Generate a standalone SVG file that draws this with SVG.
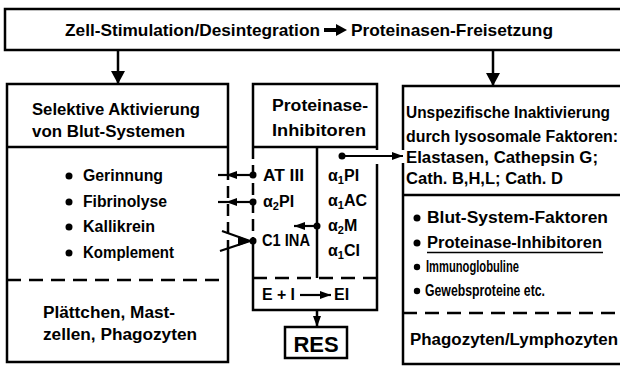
<svg xmlns="http://www.w3.org/2000/svg" width="620" height="369" viewBox="0 0 620 369">
<defs>
<style>
text{font-family:"Liberation Sans",Arial,sans-serif;font-weight:bold;font-size:16px;fill:#000}
.t17{font-size:17px}
.sub{font-size:11px}
.ln{stroke:#000;stroke-width:2.5;fill:none}
.dash{stroke:#000;stroke-width:2.5;fill:none;stroke-dasharray:14 8}
.vdash{stroke:#000;stroke-width:2.5;fill:none;stroke-dasharray:12 6}
.dot{fill:#000}
.con{stroke:#000;stroke-width:2.2;fill:none}
</style>
<marker id="ah" markerUnits="userSpaceOnUse" markerWidth="11" markerHeight="8" refX="11" refY="4" orient="auto">
<path d="M0,0 L11,4 L0,8 z" fill="#000"/>
</marker>
<marker id="ahBig" markerUnits="userSpaceOnUse" markerWidth="14" markerHeight="14" refX="13" refY="7" orient="auto">
<path d="M0,0 L13,7 L0,14 z" fill="#000"/>
</marker>
</defs>
<rect width="620" height="369" fill="#fff"/>

<g id="top">
<rect class="ln" x="5" y="9" width="620" height="41"/>
<text class="t17" x="65" y="36" textLength="255" lengthAdjust="spacingAndGlyphs">Zell-Stimulation/Desintegration</text>
<path d="M324,30 H337" stroke="#000" stroke-width="4"/>
<path d="M336,24 L347,30 L336,36 z" fill="#000"/>
<text class="t17" x="351" y="36" textLength="202" lengthAdjust="spacingAndGlyphs">Proteinasen-Freisetzung</text>
</g>

<g id="left-box">
<path class="ln" d="M228,168 V84 H7 V362 H228 V250"/>
<path class="vdash" d="M228,168 V250"/>
<path class="ln" d="M7,147 H228"/>
<path class="dash" d="M7,280 H228"/>
<text x="32" y="115" textLength="168" lengthAdjust="spacingAndGlyphs">Selektive Aktivierung</text>
<text x="32" y="137" textLength="153" lengthAdjust="spacingAndGlyphs">von Blut-Systemen</text>
<circle class="dot" cx="69" cy="176" r="3.5"/>
<circle class="dot" cx="69" cy="202" r="3.5"/>
<circle class="dot" cx="69" cy="227" r="3.5"/>
<circle class="dot" cx="69" cy="253" r="3.5"/>
<text x="83" y="181" textLength="80" lengthAdjust="spacingAndGlyphs">Gerinnung</text>
<text x="83" y="207" textLength="84" lengthAdjust="spacingAndGlyphs">Fibrinolyse</text>
<text x="83" y="232" textLength="72" lengthAdjust="spacingAndGlyphs">Kallikrein</text>
<text x="83" y="258" textLength="91" lengthAdjust="spacingAndGlyphs">Komplement</text>
<text x="43" y="318" textLength="132" lengthAdjust="spacingAndGlyphs">Plättchen, Mast-</text>
<text x="43" y="340" textLength="154" lengthAdjust="spacingAndGlyphs">zellen, Phagozyten</text>
</g>

<g id="mid-box">
<path class="ln" d="M253,147 V84 H377 V150"/>
<path class="ln" d="M377,164 V310 H253 V238"/>
<path class="vdash" d="M253,147 V238"/>
<path class="ln" d="M253,147 H377"/>
<path class="ln" d="M317,147 V278"/>
<path class="dash" d="M253,278 H377"/>
<text x="272" y="111" textLength="96" lengthAdjust="spacingAndGlyphs">Proteinase-</text>
<text x="272" y="136" textLength="94" lengthAdjust="spacingAndGlyphs">Inhibitoren</text>
<text x="263" y="181" textLength="41" lengthAdjust="spacingAndGlyphs">AT III</text>
<text x="263" y="207">α<tspan class="sub" dy="3">2</tspan><tspan dy="-3">PI</tspan></text>
<text x="262" y="246" textLength="48" lengthAdjust="spacingAndGlyphs">C1 INA</text>
<text x="328" y="181">α<tspan class="sub" dy="3">1</tspan><tspan dy="-3">PI</tspan></text>
<text x="328" y="206">α<tspan class="sub" dy="3">1</tspan><tspan dy="-3">AC</tspan></text>
<text x="328" y="231">α<tspan class="sub" dy="3">2</tspan><tspan dy="-3">M</tspan></text>
<text x="328" y="256">α<tspan class="sub" dy="3">1</tspan><tspan dy="-3">CI</tspan></text>
<text x="262" y="300" textLength="33" lengthAdjust="spacingAndGlyphs">E + I</text>
<path class="con" d="M300,295 H331" marker-end="url(#ah)"/>
<text x="334" y="300">EI</text>
</g>

<g id="res">
<rect class="ln" x="285" y="327" width="62" height="31"/>
<text x="316" y="352" text-anchor="middle" style="font-size:22px">RES</text>
</g>

<g id="right-box">
<path class="ln" d="M403,150 V86 H625"/>
<path class="ln" d="M403,163 V364 H625"/>
<path class="ln" d="M403,195 H625"/>
<path class="dash" d="M403,313 H625"/>
<text x="406" y="118" textLength="204" lengthAdjust="spacingAndGlyphs">Unspezifische Inaktivierung</text>
<text x="406" y="142" textLength="212" lengthAdjust="spacingAndGlyphs">durch lysosomale Faktoren:</text>
<text x="406" y="163" textLength="192" lengthAdjust="spacingAndGlyphs">Elastasen, Cathepsin G;</text>
<text x="406" y="184" textLength="157" lengthAdjust="spacingAndGlyphs">Cath. B,H,L; Cath. D</text>
<circle class="dot" cx="417" cy="218" r="3.5"/>
<circle class="dot" cx="417" cy="243" r="3.5"/>
<circle class="dot" cx="417" cy="267" r="3.2"/>
<circle class="dot" cx="417" cy="291" r="3.2"/>
<text x="427" y="223" textLength="181" lengthAdjust="spacingAndGlyphs">Blut-System-Faktoren</text>
<text x="427" y="248" textLength="175" lengthAdjust="spacingAndGlyphs">Proteinase-Inhibitoren</text>
<path d="M427,252.5 H603" stroke="#000" stroke-width="1.6"/>
<text x="426" y="272" textLength="93" lengthAdjust="spacingAndGlyphs">Immunoglobuline</text>
<text x="425" y="296" textLength="120" lengthAdjust="spacingAndGlyphs">Gewebsproteine etc.</text>
<text x="410" y="345" textLength="208" lengthAdjust="spacingAndGlyphs">Phagozyten/Lymphozyten</text>
</g>

<g id="connectors">
<path class="ln" d="M118,50 V84" marker-end="url(#ahBig)"/>
<path class="ln" d="M493,50 V86" marker-end="url(#ahBig)"/>
<circle class="dot" cx="253" cy="175" r="3.5"/>
<path class="con" d="M253,175 H226" marker-end="url(#ah)"/>
<path class="con" d="M226,175 H218"/>
<circle class="dot" cx="253" cy="202" r="3.5"/>
<path class="con" d="M253,202 H226" marker-end="url(#ah)"/>
<path class="con" d="M226,202 H218"/>
<circle class="dot" cx="317" cy="226" r="3.5"/>
<path class="con" d="M317,226 H294" marker-end="url(#ah)"/>
<circle class="dot" cx="253" cy="241" r="3.5"/>
<path class="con" d="M222,231 L250,241"/>
<path class="con" d="M220,251 L250,241"/>
<path d="M238,236 L251,241 L238,246 z" fill="#000"/>
<circle class="dot" cx="342" cy="156" r="3.5"/>
<path class="con" d="M342,156 H403" marker-end="url(#ah)"/>
<path class="ln" d="M317,310 V327" marker-end="url(#ah)"/>
</g>
</svg>
